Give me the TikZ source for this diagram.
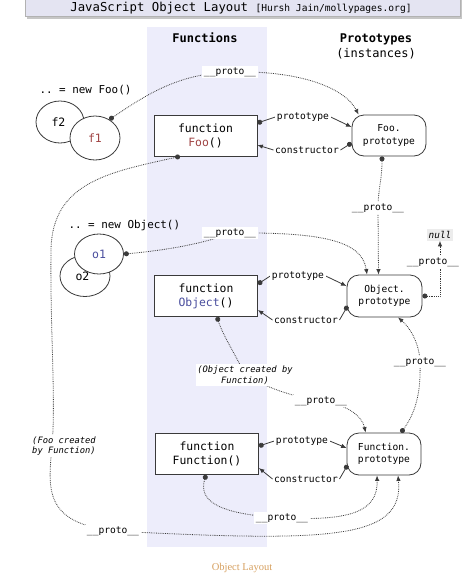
\documentclass[tikz,border=0pt]{standalone}
\usepackage{fontspec}
\setmonofont{DejaVu Sans Mono}
\newfontfamily\capfont{Liberation Serif}
\usetikzlibrary{arrows.meta,calc,shapes.geometric}
\pgfdeclarelayer{background}
\pgfdeclarelayer{foreground}
\pgfsetlayers{background,main,foreground}
\definecolor{colbg}{HTML}{EDEDFB}
\definecolor{titlebg}{HTML}{E4E4F2}
\definecolor{fooc}{HTML}{A04444}
\definecolor{objc}{HTML}{4A4E9E}
\definecolor{linec}{HTML}{3A3A3A}
\definecolor{capc}{HTML}{D6A060}
\tikzset{
  fnbox/.style={draw=linec, line width=0.8pt, fill=white, minimum width=103pt, minimum height=41pt, inner sep=0pt, align=center, font=\ttfamily\fontsize{11.4}{14}\selectfont},
  protobox/.style={draw=linec, line width=0.8pt, fill=white, rounded corners=12pt, minimum width=74pt, minimum height=41pt, inner sep=0pt, align=center, font=\ttfamily\fontsize{9.6}{12.5}\selectfont},
  inst/.style={ellipse, draw=linec, line width=0.8pt, fill=white, inner sep=0pt, font=\ttfamily\fontsize{11.5}{13}\selectfont},
  lab/.style={fill=white, inner sep=1.5pt, font=\ttfamily\fontsize{9.6}{11}\selectfont},
  note/.style={fill=white, inner sep=1.5pt, align=center, font=\ttfamily\itshape\fontsize{8.8}{10.5}\selectfont},
  head/.style={font=\ttfamily\bfseries\fontsize{12}{15}\selectfont},
  pline/.style={linec, line width=0.8pt, densely dotted},
  dotstart/.style={{Circle[length=5pt]}-},
  arrowend/.style={-{Latex[length=5.5pt,width=4.5pt]}},
  bothends/.style={{Circle[length=5pt]}-{Latex[length=5.5pt,width=4.5pt]}},
  solidlink/.style={linec, line width=0.8pt}
}
\begin{document}
\begin{tikzpicture}[x=1pt,y=-1pt]
\useasboundingbox (0,0) rectangle (474,579);
\begin{pgfonlayer}{background}
  \fill[gray!45] (27,-5) rectangle (462,18.5);
  \draw[fill=titlebg, draw=gray!60] (25,-5) rectangle (460,16.5);
  \fill[colbg] (147,27) rectangle (267,547);
\end{pgfonlayer}
\node (title) at (241,8.5) {\ttfamily\fontsize{12.3}{14}\selectfont JavaScript Object Layout {\fontsize{9.6}{12}\selectfont [Hursh Jain/mollypages.org]}};
\node[head] (hfun) at (205,38) {Functions};
\node[head, align=center] (hproto) at (376,46) {Prototypes\\{\mdseries (instances)}};

% instances
\node[anchor=west, font=\ttfamily\fontsize{10.9}{13}\selectfont] (newfoo) at (36,90) {.. = new Foo()};
\node[inst, minimum width=48pt, minimum height=42pt] (f2) at (60,122) {\hspace*{-3pt}f2};
\node[inst, minimum width=50pt, minimum height=44pt] (f1) at (95,138) {\textcolor{fooc}{f1}};
\node[anchor=west, font=\ttfamily\fontsize{10.9}{13}\selectfont] (newobj) at (65,225) {.. = new Object()};
\node[inst, minimum width=50pt, minimum height=41pt] (o2) at (85,276) {\raisebox{-6pt}{\hspace*{-5pt}o2}};
\node[inst, minimum width=49pt, minimum height=40pt] (o1) at (99,254) {\textcolor{objc}{o1}};

% functions
\node[fnbox] (foo) at (205.5,135.5) {function\\\textcolor{fooc}{Foo}()};
\node[fnbox] (obj) at (206,296) {function\\\textcolor{objc}{Object}()};
\node[fnbox] (fun) at (207,454) {function\\Function()};

% prototypes
\node[protobox] (fooproto) at (389,135.5) {Foo.\\prototype};
\node[protobox, minimum width=75pt, minimum height=42pt] (objproto) at (384.5,296) {Object.\\prototype};
\node[protobox, minimum height=42pt] (funproto) at (384,454) {Function.\\prototype};
\node[fill=gray!15, inner sep=2pt, font=\ttfamily\itshape\fontsize{9.4}{11}\selectfont] (null) at (440,235) {null};

% labels
\begin{pgfonlayer}{foreground}
\node[lab] (pFoo1) at (230,72) {\_\_proto\_\_};
\node[lab] (protoLab1) at (303,117) {prototype};
\node[lab] (constrLab1) at (307,150) {constructor};
\node[lab] (pFP) at (378,208) {\_\_proto\_\_};
\node[lab] (pO1) at (230,233) {\_\_proto\_\_};
\node[lab] (protoLab2) at (298,276) {prototype};
\node[lab] (constrLab2) at (306,320) {constructor};
\node[lab] (pNull) at (433,262) {\_\_proto\_\_};
\node[note] (objby) at (245,375) {(Object created by\\Function)};
\node[lab] (pOF) at (321,401) {\_\_proto\_\_};
\node[lab] (pFO) at (420,362) {\_\_proto\_\_};
\node[lab] (protoLab3) at (302,441) {prototype};
\node[lab] (constrLab3) at (306,479) {constructor};
\node[lab] (pFF) at (282,518) {\_\_proto\_\_};
\node[note, align=left] (fooby) at (64,446) {(Foo created\\by Function)};
\node[lab] (pFooF) at (113,531) {\_\_proto\_\_};
\end{pgfonlayer}
\node[font=\capfont\fontsize{10.5}{12}\selectfont, text=capc] (caption) at (242,568) {Object Layout};

% connectors: __proto__ chains (drawn behind labels)
\draw[pline, dotstart] (f1.52) .. controls (150,92) and (180,74) .. (pFoo1.center);
\draw[pline, arrowend] (pFoo1.center) .. controls (300,70) and (345,88) .. ($(fooproto.north west)+(7,0)$);

\draw[pline, dotstart] ($(fooproto.south)+(-7,0)$) .. controls (382,180) and (378,190) .. (pFP.center);
\draw[pline, arrowend] (pFP.center) -- ($(objproto.north)+(-6,0)$);

\draw[pline, dotstart] (o1.east) .. controls (170,250) and (210,242) .. (pO1.center);
\draw[pline, arrowend] (pO1.center) .. controls (320,232) and (362,240) .. ($(objproto.north)+(-17.5,0)$);

\draw[pline, bothends] (objproto.east) -| (null.south);

\draw[pline, dotstart] ($(obj.south)+(11,0)$) .. controls (224,338) and (236,355) .. (objby.center);
\draw[pline] (objby.center) .. controls (268,388) and (290,396) .. (pOF.center);
\draw[pline, arrowend] (pOF.center) .. controls (345,404) and (362,415) .. ($(funproto.north west)+(19,0)$);

\draw[pline, dotstart] ($(funproto.north)+(17,0)$) .. controls (416,412) and (421,392) .. (pFO.center);
\draw[pline, arrowend] (pFO.center) .. controls (419,340) and (408,326) .. ($(objproto.south)+(13.5,0)$);

\draw[pline, dotstart] ($(fun.south)+(-1,0)$) .. controls (198,502) and (220,514) .. (pFF.center);
\draw[pline, arrowend] (pFF.center) .. controls (350,521) and (378,512) .. ($(funproto.south)+(-7,0)$);

\draw[pline, dotstart] ($(foo.south)+(-25.5,0)$) .. controls (110,172) and (52,182) .. (51,250) .. controls (50,330) and (56,400) .. (fooby.center -| 52,0);
\draw[pline] (fooby.center -| 52,0) .. controls (48,490) and (44,522) .. (pFooF.center);
\draw[pline, arrowend] (pFooF.center) .. controls (330,542) and (404,540) .. ($(funproto.south)+(14,0)$);

% prototype / constructor links
\draw[solidlink, dotstart] ($(foo.east)+(0,-12.5)$) -- (protoLab1.west);
\draw[solidlink, arrowend] (protoLab1.east) -- ($(fooproto.west)+(0,-8.5)$);
\draw[solidlink, dotstart] ($(fooproto.west)+(0,7.5)$) -- (constrLab1.east);
\draw[solidlink, arrowend] (constrLab1.west) -- ($(foo.east)+(0,9.5)$);

\draw[solidlink, dotstart] ($(obj.east)+(0,-12)$) -- (protoLab2.west);
\draw[solidlink, arrowend] (protoLab2.east) -- ($(objproto.west)+(0,-10)$);
\draw[solidlink, dotstart] ($(objproto.west)+(1,10)$) -- (constrLab2.east);
\draw[solidlink, arrowend] (constrLab2.west) -- ($(obj.east)+(0,14)$);

\draw[solidlink, dotstart] ($(fun.east)+(0,-8)$) -- (protoLab3.west);
\draw[solidlink, arrowend] (protoLab3.east) -- ($(funproto.west)+(0,-6)$);
\draw[solidlink, dotstart] ($(funproto.west)+(1,11)$) -- (constrLab3.east);
\draw[solidlink, arrowend] (constrLab3.west) -- ($(fun.east)+(0,14)$);
\end{tikzpicture}
\end{document}
